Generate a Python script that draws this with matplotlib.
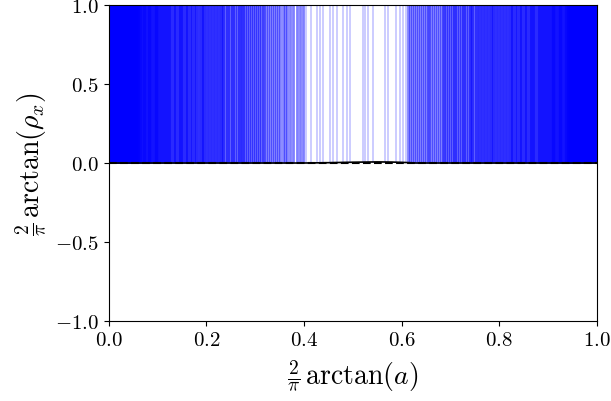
import numpy as np
import matplotlib
matplotlib.use("Agg")
import matplotlib.pyplot as plt

plt.rcParams['font.family'] = 'serif'
plt.rcParams['font.serif'] = ['cmr10']
plt.rcParams['mathtext.fontset'] = 'cm'
plt.rcParams['axes.formatter.use_mathtext'] = True

# x positions (2/pi arctan a) of the individual rho_x curves
left_solid = [0.001, 0.002, 0.003, 0.004, 0.005, 0.006, 0.007, 0.008, 0.009, 0.010,
              0.011, 0.012, 0.013, 0.014, 0.015, 0.016, 0.017, 0.018, 0.019, 0.020,
              0.021, 0.022, 0.023, 0.024, 0.025, 0.026, 0.027, 0.028, 0.029, 0.030,
              0.031, 0.032, 0.033, 0.034, 0.035, 0.036, 0.037, 0.038, 0.039, 0.040,
              0.041, 0.042, 0.043, 0.044, 0.045, 0.046, 0.047, 0.048, 0.049, 0.050,
              0.051, 0.052, 0.053, 0.054, 0.055, 0.056, 0.057, 0.058, 0.059, 0.060]
left_dense = [0.062, 0.063, 0.065, 0.067, 0.068, 0.070, 0.072, 0.073, 0.075, 0.077,
              0.078, 0.080, 0.082, 0.083, 0.085, 0.087, 0.089, 0.090, 0.092, 0.094,
              0.096, 0.097, 0.099, 0.101, 0.103, 0.105, 0.107, 0.109, 0.111, 0.113,
              0.115, 0.117, 0.119, 0.121, 0.123]
left_mid = [0.126, 0.128, 0.131, 0.133, 0.136, 0.138, 0.141, 0.143, 0.146, 0.148,
            0.151, 0.153, 0.156, 0.158, 0.161, 0.163, 0.166, 0.168, 0.171, 0.174,
            0.177, 0.179, 0.182, 0.185, 0.188, 0.190, 0.193, 0.196, 0.199, 0.202,
            0.205, 0.208, 0.211, 0.214, 0.217, 0.220, 0.223, 0.226, 0.229, 0.232,
            0.235, 0.239, 0.242, 0.245, 0.249, 0.252, 0.255, 0.259, 0.262, 0.266,
            0.269, 0.273, 0.276, 0.280, 0.284, 0.287, 0.291, 0.295, 0.299, 0.303,
            0.307, 0.311]
left_sparse = [0.315, 0.319, 0.323, 0.327, 0.331, 0.335, 0.339, 0.343, 0.347, 0.351,
               0.356, 0.361, 0.366, 0.372, 0.378, 0.385, 0.392, 0.398]
centre = [0.405, 0.415, 0.426, 0.432, 0.439, 0.453, 0.460, 0.467, 0.480, 0.487,
          0.494, 0.521, 0.525, 0.531, 0.542, 0.566, 0.572, 0.589, 0.596, 0.603, 0.608]
right_sparse = [0.613, 0.617, 0.621, 0.625, 0.629, 0.633, 0.637, 0.641, 0.645, 0.649,
                0.653, 0.657, 0.661, 0.665, 0.669, 0.673, 0.677, 0.681, 0.684]
right_mid = [0.687, 0.691, 0.695, 0.699, 0.703, 0.707, 0.710, 0.714, 0.718, 0.721,
             0.725, 0.728, 0.732, 0.735, 0.739, 0.742, 0.745, 0.749, 0.752, 0.755,
             0.758, 0.761, 0.764, 0.767, 0.770, 0.773, 0.776, 0.779, 0.782, 0.785,
             0.788, 0.791, 0.794, 0.797, 0.800, 0.803, 0.806, 0.809, 0.812, 0.815,
             0.818, 0.821, 0.823, 0.826, 0.829, 0.832, 0.834, 0.837, 0.840, 0.842,
             0.845, 0.847, 0.850, 0.852, 0.855, 0.857, 0.860, 0.862, 0.865, 0.867,
             0.870, 0.872, 0.874]
right_dense = [0.877, 0.879, 0.881, 0.883, 0.885, 0.887, 0.889, 0.891, 0.893, 0.895,
               0.897, 0.899, 0.901, 0.903, 0.905, 0.907, 0.909, 0.911, 0.913, 0.915,
               0.917, 0.918, 0.920, 0.922, 0.924, 0.925, 0.927, 0.929, 0.931, 0.932,
               0.934, 0.936, 0.937, 0.939]
right_solid = [0.940, 0.941, 0.942, 0.943, 0.944, 0.945, 0.946, 0.947, 0.948, 0.949,
               0.950, 0.951, 0.952, 0.953, 0.954, 0.955, 0.956, 0.957, 0.958, 0.959,
               0.960, 0.961, 0.962, 0.963, 0.964, 0.965, 0.966, 0.967, 0.968, 0.969,
               0.970, 0.971, 0.972, 0.973, 0.974, 0.975, 0.976, 0.977, 0.978, 0.979,
               0.980, 0.981, 0.982, 0.983, 0.984, 0.985, 0.986, 0.987, 0.988, 0.989,
               0.990, 0.991, 0.992, 0.993, 0.994, 0.995, 0.996, 0.997, 0.998, 0.999]

# black curve lying almost on zero
base_x = [0.0, 0.40, 0.45, 0.50, 0.55, 0.58, 0.61, 0.63, 1.0]
base_y = [0.0, 0.0, 0.002, 0.005, 0.007, 0.006, 0.003, 0.0, 0.0]

dense_xs = left_solid + left_dense + left_mid + right_mid + right_dense + right_solid
edge_xs = left_sparse + right_sparse

fig = plt.figure(figsize=(6.11, 4.02), dpi=100)
ax = fig.add_axes([0.178, 0.199, 0.799, 0.786])

ax.vlines(dense_xs, 0, 1, colors='blue', alpha=0.55, linewidth=2.4)
ax.vlines(edge_xs, 0, 1, colors='blue', alpha=0.5, linewidth=2.0)
ax.vlines(centre, 0, 1, colors='blue', alpha=0.2, linewidth=1.4)
ax.plot(base_x, base_y, color='black', linewidth=1.2)
ax.axhline(0, color='black', linestyle='--', linewidth=1.5)

ax.set_xlim(0, 1)
ax.set_ylim(-1, 1)
ax.set_xticks([0.0, 0.2, 0.4, 0.6, 0.8, 1.0])
ax.set_yticks([-1.0, -0.5, 0.0, 0.5, 1.0])
ax.tick_params(labelsize=15)
ax.set_xlabel(r'$\frac{2}{\pi}\,\arctan(a)$', fontsize=20, labelpad=6)
ax.set_ylabel(r'$\frac{2}{\pi}\,\arctan(\rho_x)$', fontsize=20)

fig.savefig('out.png', dpi=100)
